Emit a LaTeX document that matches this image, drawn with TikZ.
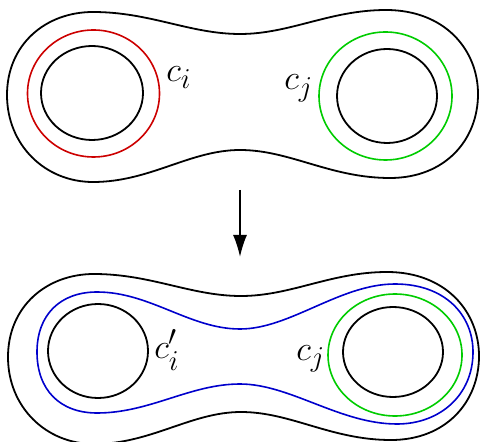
\documentclass[tikz,border=0pt]{standalone}
\usepackage{amsmath,amssymb}
\usepackage{tikz}
\usetikzlibrary{arrows.meta}
\definecolor{curvered}{rgb}{0.8,0,0}
\definecolor{curvegreen}{rgb}{0,0.8,0}
\definecolor{curveblue}{rgb}{0,0,0.8}

\begin{document}
\begin{tikzpicture}[x=0.5pt,y=-0.5pt,
    boundary/.style={line width=0.9pt},
    loop/.style={line width=0.8pt},
    lbl/.style={inner sep=0pt,anchor=base west,font=\fontsize{19}{23}\selectfont}]
    \useasboundingbox (0,0) rectangle (480,442);
    % Outer boundary, before and after
    \foreach \dx/\dy in {0/0,1/262}{
    \draw[boundary,shift={(\dx,\dy)}] (7,95)
      .. controls (7,45) and (45,12) .. (93,12)
      .. controls (150,12) and (190,34) .. (240,34)
      .. controls (290,34) and (330,10) .. (386,10)
      .. controls (445,10) and (478,50) .. (478,94)
      .. controls (478,140) and (445,178) .. (390,178)
      .. controls (330,178) and (290,150) .. (240,150)
      .. controls (190,150) and (150,182) .. (93,182)
      .. controls (45,182) and (7,145) .. cycle;
    }
    % Holes
    \draw[boundary] (92,93) ellipse (51 and 47);
    \draw[boundary] (387,96) ellipse (50 and 47);
    \draw[boundary] (98,351) ellipse (50 and 47);
    \draw[boundary] (393,352) ellipse (50 and 45);
    % Curves on top surface
    \draw[loop,curvered] (93.5,93.5) ellipse (66 and 63.5);
    \draw[loop,curvegreen] (385.5,96) ellipse (66.5 and 64);
    \node[lbl] (ci) at (166,82) {$c_i$};
    \node[lbl] (cj) at (284,90) {$c_j$};
    % Arrow
    \coordinate (arrowtop) at (240,190);
    \coordinate (arrowtip) at (240,257);
    \draw[line width=0.8pt,-{Latex[length=11pt,width=7pt]}] (arrowtop) -- (arrowtip);
    % Curves on bottom surface
    \draw[loop,curvegreen] (395,355) ellipse (67 and 61);
    \draw[loop,curveblue] (37,352)
      .. controls (37,315) and (60,292) .. (97,292)
      .. controls (150,292) and (190,329) .. (240,329)
      .. controls (290,329) and (340,284) .. (395,284)
      .. controls (445,284) and (473,315) .. (473,352)
      .. controls (473,395) and (440,424) .. (397,424)
      .. controls (340,424) and (290,384) .. (240,384)
      .. controls (190,384) and (150,413) .. (97,413)
      .. controls (60,413) and (37,390) .. cycle;
    \node[lbl] (cip) at (154,358) {$c_i'$};
    \node[lbl] (cjb) at (296,360) {$c_j$};
\end{tikzpicture}
\end{document}
